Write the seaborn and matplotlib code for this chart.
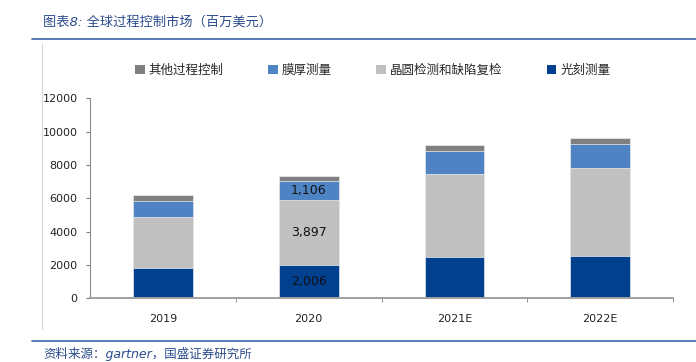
import numpy as np
import pandas as pd
import matplotlib
matplotlib.use("Agg")
import matplotlib.pyplot as plt
from matplotlib.patches import Patch
from matplotlib.lines import Line2D
import seaborn as sns

# ==========================
# Data (millions USD)
# ==========================
years = ["2019", "2020", "2021E", "2022E"]
litho = [1830, 2006, 2500, 2550]          # 光刻测量
wafer = [3050, 3897, 4930, 5290]          # 晶圆检测和缺陷复检
film = [980, 1106, 1400, 1440]            # 膜厚测量
other = [340, 330, 350, 340]              # 其他过程控制

series_names = ["其他过程控制", "膜厚测量", "晶圆检测和缺陷复检", "光刻测量"]
colors = ["#808080", "#4F84C4", "#C0C0C0", "#00408F"]

# cumulative tops, drawn tallest first so the shorter bars sit on top
c_litho = np.array(litho)
c_wafer = c_litho + np.array(wafer)
c_film = c_wafer + np.array(film)
c_other = c_film + np.array(other)
df = pd.DataFrame({"year": years, "other": c_other, "film": c_film,
                   "wafer": c_wafer, "litho": c_litho})

sns.set_style("white")
plt.rcParams["font.family"] = ["DejaVu Sans", "Noto Sans CJK SC"]

fig = plt.figure(figsize=(6.96, 3.62), dpi=100)
ax = fig.add_axes([0.1293, 0.176, 0.8377, 0.5525])

for col, c in zip(["other", "film", "wafer", "litho"], colors):
    sns.barplot(data=df, x="year", y=col, color=c, width=0.41,
                saturation=1, edgecolor="#EEEEEE", linewidth=0.5, ax=ax)

# value labels for 2020
i = years.index("2020")
ax.text(i, litho[i] / 2, f"{litho[i]:,}", ha="center", va="center", fontsize=9, color="#111111")
ax.text(i, c_litho[i] + wafer[i] / 2, f"{wafer[i]:,}", ha="center", va="center", fontsize=9, color="#111111")
ax.text(i, c_wafer[i] + film[i] / 2, f"{film[i]:,}", ha="center", va="center", fontsize=9, color="#111111")

ax.set_xlim(-0.5, 3.5)
ax.set_ylim(0, 12000)
ax.set_yticks(range(0, 12001, 2000))
ax.set_xlabel("")
ax.set_ylabel("")
ax.set_xticks([0.5, 1.5, 2.5, 3.5], minor=True)
ax.tick_params(axis="x", which="major", length=0, pad=11, labelsize=8, colors="#222222")
ax.tick_params(axis="x", which="minor", length=3, direction="out", color="#7F7F7F", bottom=True)
ax.tick_params(axis="y", length=3, direction="out", color="#7F7F7F", left=True, pad=6,
               labelsize=8, labelcolor="#222222")
for s in ["top", "right"]:
    ax.spines[s].set_visible(False)
ax.spines["left"].set_color("#8C8C8C")
ax.spines["bottom"].set_color("#A0A0A0")
ax.spines["bottom"].set_linewidth(1.4)

# legend
handles = [Patch(facecolor=c, edgecolor="none") for c in colors]
fig.legend(handles, series_names, loc="center left", bbox_to_anchor=(0.178, 0.805),
           ncol=4, frameon=False, fontsize=9, handlelength=0.75, handleheight=0.75,
           handletextpad=0.3, columnspacing=3.6)

# title, source and frame lines
fig.text(0.062, 0.938, "图表8: 全球过程控制市场（百万美元）", fontsize=9.5,
         color="#2B4C8C", style="italic", va="center")
fig.text(0.062, 0.022, "资料来源：gartner，国盛证券研究所", fontsize=9,
         color="#2B4C8C", style="italic", va="center")
fig.add_artist(Line2D([0.046, 1.0], [0.892, 0.892], color="#3A63A8", lw=1.2))
fig.add_artist(Line2D([0.046, 1.0], [0.058, 0.058], color="#3A63A8", lw=1.2))
fig.add_artist(Line2D([0.060, 0.060], [0.09, 0.88], color="#D9D9D9", lw=0.8))

fig.savefig("out.png", dpi=100)
